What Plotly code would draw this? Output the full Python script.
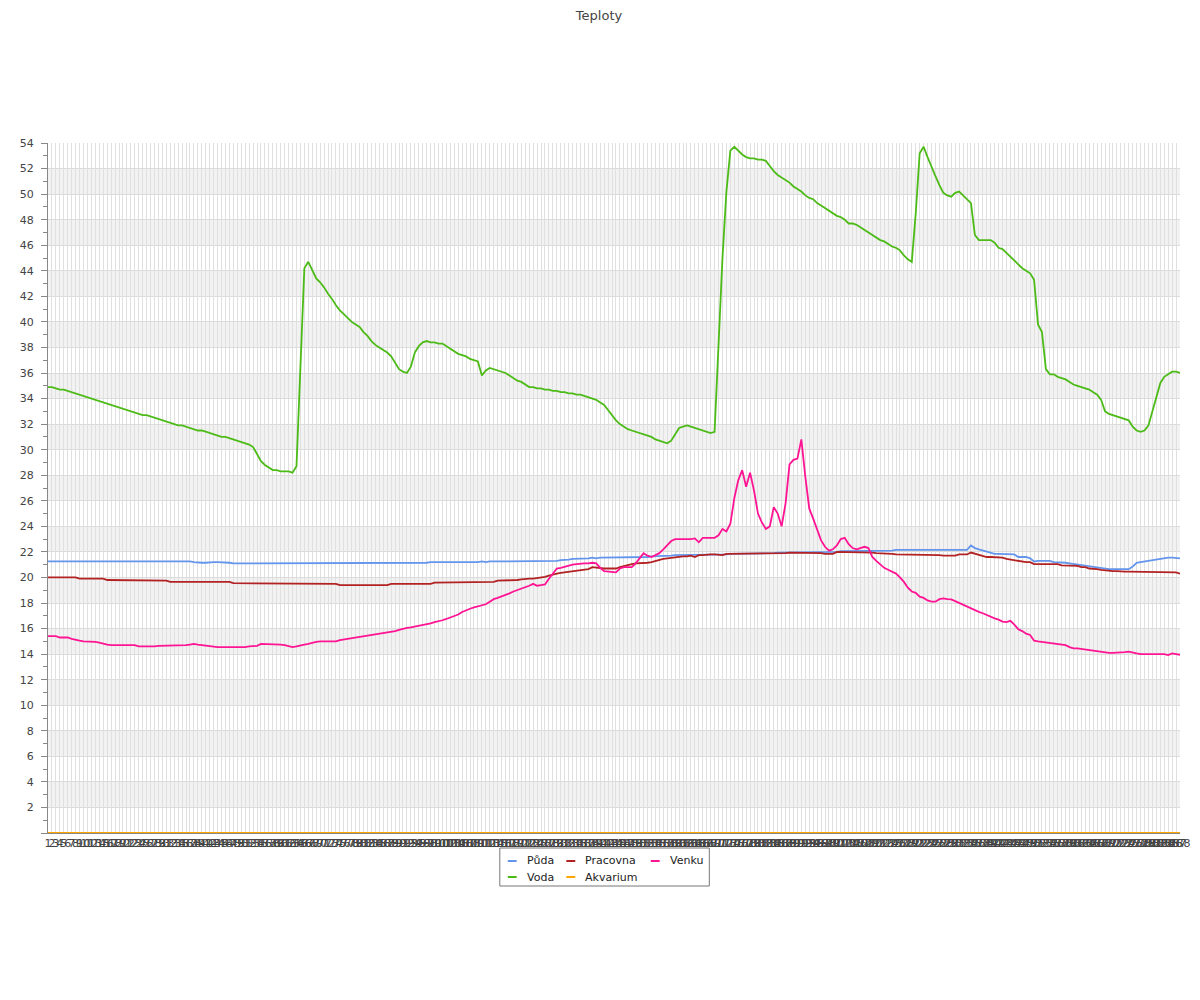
import plotly.graph_objects as go

# ---------------- data ----------------
x_cats = list(range(1, 289))

puda = [
    21.25, 21.25, 21.25, 21.3, 21.25, 21.25, 21.25, 21.25, 21.25, 21.25,
    21.25, 21.25, 21.25, 21.25, 21.25, 21.25, 21.25, 21.25, 21.25, 21.25,
    21.25, 21.25, 21.25, 21.25, 21.25, 21.25, 21.25, 21.25, 21.25, 21.25,
    21.25, 21.25, 21.25, 21.25, 21.25, 21.25, 21.25, 21.2, 21.15, 21.15,
    21.15, 21.2, 21.2, 21.2, 21.2, 21.15, 21.15, 21.1, 21.1, 21.1,
    21.15, 21.15, 21.1, 21.1, 21.15, 21.15, 21.15, 21.1, 21.1, 21.1,
    21.1, 21.1, 21.1, 21.1, 21.1, 21.1, 21.1, 21.1, 21.1, 21.1,
    21.1, 21.1, 21.1, 21.1, 21.1, 21.1, 21.1, 21.1, 21.1, 21.1,
    21.1, 21.1, 21.1, 21.1, 21.1, 21.1, 21.1, 21.1, 21.1, 21.1,
    21.1, 21.1, 21.15, 21.1, 21.1, 21.1, 21.15, 21.2, 21.2, 21.2,
    21.2, 21.2, 21.2, 21.2, 21.2, 21.2, 21.15, 21.15, 21.2, 21.2,
    21.25, 21.2, 21.25, 21.25, 21.25, 21.25, 21.25, 21.25, 21.25, 21.25,
    21.25, 21.25, 21.25, 21.25, 21.25, 21.25, 21.25, 21.25, 21.3, 21.3,
    21.35, 21.35, 21.4, 21.45, 21.45, 21.5, 21.5, 21.5, 21.55, 21.5,
    21.55, 21.55, 21.55, 21.55, 21.55, 21.55, 21.55, 21.55, 21.55, 21.6,
    21.6, 21.6, 21.6, 21.65, 21.65, 21.65, 21.7, 21.7, 21.7, 21.75,
    21.75, 21.75, 21.75, 21.75, 21.75, 21.75, 21.75, 21.75, 21.75, 21.75,
    21.8, 21.8, 21.8, 21.85, 21.85, 21.85, 21.85, 21.85, 21.85, 21.9,
    21.9, 21.9, 21.9, 21.9, 21.9, 21.95, 21.95, 21.95, 21.95, 21.95,
    21.95, 21.95, 21.95, 21.95, 21.95, 22.0, 22.0, 22.0, 22.0, 22.0,
    22.0, 22.05, 22.05, 22.05, 22.05, 22.05, 22.1, 22.1, 22.1, 22.1,
    22.1, 22.1, 22.1, 22.1, 22.1, 22.15, 22.15, 22.15, 22.15, 22.15,
    22.15, 22.15, 22.15, 22.15, 22.15, 22.15, 22.15, 22.15, 22.15, 22.15,
    22.15, 22.15, 22.15, 22.15, 22.5, 22.3, 22.2, 22.1, 22.0, 21.9,
    21.85, 21.85, 21.85, 21.85, 21.85, 21.8, 21.6, 21.6, 21.6, 21.5,
    21.25, 21.3, 21.3, 21.3, 21.3, 21.2, 21.2, 21.2, 21.15, 21.1,
    21.05, 21.0, 20.95, 20.9, 20.9, 20.85, 20.8, 20.75, 20.7, 20.65,
    20.65, 20.65, 20.65, 20.65, 20.65, 20.85, 21.15, 21.2, 21.25, 21.3,
    21.35, 21.4, 21.5, 21.5, 21.55, 21.55, 21.5, 21.5,
]

voda = [
    34.9, 34.9, 34.8, 34.7, 34.7, 34.6, 34.5, 34.4, 34.3, 34.2,
    34.1, 34.0, 33.9, 33.8, 33.7, 33.6, 33.5, 33.4, 33.3, 33.2,
    33.1, 33.0, 32.9, 32.8, 32.7, 32.7, 32.6, 32.5, 32.4, 32.3,
    32.2, 32.1, 32.0, 31.9, 31.9, 31.8, 31.7, 31.6, 31.5, 31.5,
    31.4, 31.3, 31.2, 31.1, 31.0, 31.0, 30.9, 30.8, 30.7, 30.6,
    30.5, 30.4, 30.2, 29.6, 29.1, 28.8, 28.6, 28.4, 28.4, 28.3,
    28.3, 28.3, 28.2, 28.7, 36.5, 44.2, 44.7, 44.0, 43.4, 43.1,
    42.7, 42.2, 41.8, 41.3, 40.9, 40.6, 40.3, 40.0, 39.8, 39.6,
    39.2, 38.9, 38.5, 38.2, 38.0, 37.8, 37.6, 37.3, 36.8, 36.3,
    36.1, 36.0, 36.5, 37.6, 38.1, 38.4, 38.5, 38.4, 38.4, 38.3,
    38.3, 38.1, 37.9, 37.7, 37.5, 37.4, 37.3, 37.1, 37.0, 36.9,
    35.8, 36.2, 36.4, 36.3, 36.2, 36.1, 36.0, 35.8, 35.6, 35.4,
    35.3, 35.1, 34.9, 34.9, 34.8, 34.8, 34.7, 34.7, 34.6, 34.6,
    34.5, 34.5, 34.4, 34.4, 34.3, 34.3, 34.2, 34.1, 34.0, 33.9,
    33.7, 33.5, 33.1, 32.7, 32.3, 32.0, 31.8, 31.6, 31.5, 31.4,
    31.3, 31.2, 31.1, 31.0, 30.8, 30.7, 30.6, 30.5, 30.7, 31.2,
    31.7, 31.8, 31.9, 31.8, 31.7, 31.6, 31.5, 31.4, 31.3, 31.4,
    38.5, 45.0, 50.2, 53.4, 53.7, 53.4, 53.1, 52.9, 52.8, 52.8,
    52.7, 52.7, 52.6, 52.2, 51.8, 51.5, 51.3, 51.1, 50.9, 50.6,
    50.4, 50.2, 49.9, 49.7, 49.6, 49.3, 49.1, 48.9, 48.7, 48.5,
    48.3, 48.2, 48.0, 47.7, 47.7, 47.6, 47.4, 47.2, 47.0, 46.8,
    46.6, 46.4, 46.3, 46.1, 45.9, 45.8, 45.6, 45.2, 44.9, 44.7,
    48.5, 53.2, 53.7, 52.9, 52.1, 51.4, 50.7, 50.1, 49.9, 49.8,
    50.1, 50.2, 49.9, 49.6, 49.3, 46.8, 46.4, 46.4, 46.4, 46.4,
    46.2, 45.8, 45.7, 45.4, 45.1, 44.8, 44.5, 44.2, 44.0, 43.8,
    43.3, 39.8, 39.2, 36.3, 35.9, 35.9, 35.7, 35.6, 35.5, 35.3,
    35.1, 35.0, 34.9, 34.8, 34.7, 34.5, 34.3, 33.9, 33.0, 32.8,
    32.7, 32.6, 32.5, 32.4, 32.3, 31.8, 31.5, 31.4, 31.5, 31.9,
    33.0, 34.2, 35.2, 35.7, 35.9, 36.1, 36.1, 36.0,
]

pracovna = [
    20.0, 20.0, 20.0, 20.0, 20.0, 20.0, 20.0, 20.0, 19.9, 19.9,
    19.9, 19.9, 19.9, 19.9, 19.9, 19.8, 19.8, 19.8, 19.8, 19.8,
    19.8, 19.75, 19.75, 19.75, 19.75, 19.75, 19.75, 19.75, 19.75, 19.75,
    19.75, 19.65, 19.65, 19.65, 19.65, 19.65, 19.65, 19.65, 19.65, 19.65,
    19.65, 19.65, 19.65, 19.65, 19.65, 19.65, 19.65, 19.55, 19.55, 19.55,
    19.55, 19.55, 19.55, 19.55, 19.55, 19.55, 19.55, 19.55, 19.55, 19.5,
    19.5, 19.5, 19.5, 19.5, 19.5, 19.5, 19.5, 19.5, 19.5, 19.5,
    19.5, 19.5, 19.55, 19.5, 19.4, 19.4, 19.4, 19.4, 19.4, 19.4,
    19.45, 19.4, 19.4, 19.4, 19.4, 19.4, 19.4, 19.5, 19.5, 19.5,
    19.5, 19.5, 19.5, 19.5, 19.5, 19.5, 19.5, 19.5, 19.6, 19.6,
    19.6, 19.6, 19.6, 19.6, 19.6, 19.6, 19.65, 19.65, 19.65, 19.65,
    19.65, 19.65, 19.65, 19.65, 19.75, 19.75, 19.75, 19.75, 19.8, 19.8,
    19.85, 19.9, 19.9, 19.9, 19.95, 19.95, 20.05, 20.15, 20.25, 20.3,
    20.35, 20.4, 20.45, 20.5, 20.55, 20.6, 20.6, 20.65, 20.8, 20.75,
    20.7, 20.7, 20.7, 20.7, 20.7, 20.8, 20.9, 21.0, 21.05, 21.1,
    21.1, 21.15, 21.15, 21.2, 21.3, 21.35, 21.45, 21.5, 21.55, 21.6,
    21.6, 21.65, 21.65, 21.7, 21.6, 21.75, 21.75, 21.8, 21.8, 21.8,
    21.8, 21.75, 21.85, 21.85, 21.85, 21.9, 21.85, 21.9, 21.85, 21.85,
    21.85, 21.85, 21.85, 21.9, 21.9, 21.85, 21.9, 21.9, 21.95, 21.95,
    21.95, 21.95, 21.9, 21.9, 21.9, 21.9, 21.9, 21.85, 21.85, 21.85,
    22.0, 22.0, 21.95, 21.95, 21.95, 21.95, 21.95, 21.95, 21.95, 21.95,
    21.9, 21.9, 21.9, 21.85, 21.85, 21.8, 21.8, 21.8, 21.8, 21.8,
    21.8, 21.8, 21.8, 21.75, 21.75, 21.75, 21.75, 21.7, 21.7, 21.7,
    21.7, 21.8, 21.8, 21.8, 21.95, 21.85, 21.75, 21.65, 21.6, 21.6,
    21.6, 21.6, 21.55, 21.45, 21.4, 21.35, 21.25, 21.2, 21.2, 21.2,
    21.05, 21.05, 21.05, 21.05, 21.05, 21.05, 21.05, 20.95, 20.95, 20.9,
    20.9, 20.9, 20.8, 20.8, 20.7, 20.7, 20.65, 20.6, 20.55, 20.55,
    20.5, 20.5, 20.45, 20.45, 20.45, 20.45, 20.45, 20.45, 20.45, 20.45,
    20.45, 20.4, 20.4, 20.4, 20.4, 20.4, 20.4, 20.3,
]

akvarium = [
    0, 0, 0, 0, 0, 0, 0, 0, 0, 0, 0, 0, 0, 0, 0, 0, 0, 0, 0, 0, 0, 0, 0, 0,
    0, 0, 0, 0, 0, 0, 0, 0, 0, 0, 0, 0, 0, 0, 0, 0, 0, 0, 0, 0, 0, 0, 0, 0,
    0, 0, 0, 0, 0, 0, 0, 0, 0, 0, 0, 0, 0, 0, 0, 0, 0, 0, 0, 0, 0, 0, 0, 0,
    0, 0, 0, 0, 0, 0, 0, 0, 0, 0, 0, 0, 0, 0, 0, 0, 0, 0, 0, 0, 0, 0, 0, 0,
    0, 0, 0, 0, 0, 0, 0, 0, 0, 0, 0, 0, 0, 0, 0, 0, 0, 0, 0, 0, 0, 0, 0, 0,
    0, 0, 0, 0, 0, 0, 0, 0, 0, 0, 0, 0, 0, 0, 0, 0, 0, 0, 0, 0, 0, 0, 0, 0,
    0, 0, 0, 0, 0, 0, 0, 0, 0, 0, 0, 0, 0, 0, 0, 0, 0, 0, 0, 0, 0, 0, 0, 0,
    0, 0, 0, 0, 0, 0, 0, 0, 0, 0, 0, 0, 0, 0, 0, 0, 0, 0, 0, 0, 0, 0, 0, 0,
    0, 0, 0, 0, 0, 0, 0, 0, 0, 0, 0, 0, 0, 0, 0, 0, 0, 0, 0, 0, 0, 0, 0, 0,
    0, 0, 0, 0, 0, 0, 0, 0, 0, 0, 0, 0, 0, 0, 0, 0, 0, 0, 0, 0, 0, 0, 0, 0,
    0, 0, 0, 0, 0, 0, 0, 0, 0, 0, 0, 0, 0, 0, 0, 0, 0, 0, 0, 0, 0, 0, 0, 0,
    0, 0, 0, 0, 0, 0, 0, 0, 0, 0, 0, 0, 0, 0, 0, 0, 0, 0, 0, 0, 0, 0, 0, 0,
]

venku = [
    15.4, 15.4, 15.4, 15.3, 15.3, 15.3, 15.2, 15.1, 15.05, 15.0,
    15.0, 15.0, 14.95, 14.9, 14.8, 14.75, 14.7, 14.7, 14.7, 14.7,
    14.7, 14.7, 14.7, 14.6, 14.6, 14.6, 14.55, 14.6, 14.65, 14.65,
    14.7, 14.7, 14.7, 14.7, 14.7, 14.7, 14.75, 14.8, 14.75, 14.7,
    14.7, 14.6, 14.6, 14.55, 14.55, 14.55, 14.5, 14.5, 14.5, 14.55,
    14.55, 14.6, 14.6, 14.65, 14.8, 14.8, 14.75, 14.8, 14.8, 14.75,
    14.7, 14.6, 14.55, 14.6, 14.7, 14.75, 14.8, 14.9, 14.95, 15.0,
    15.0, 15.0, 15.0, 15.0, 15.1, 15.15, 15.2, 15.25, 15.3, 15.3,
    15.35, 15.4, 15.45, 15.5, 15.55, 15.6, 15.65, 15.7, 15.8, 15.9,
    16.0, 16.05, 16.1, 16.15, 16.2, 16.25, 16.3, 16.4, 16.5, 16.55,
    16.65, 16.75, 16.85, 16.95, 17.1, 17.3, 17.45, 17.55, 17.65, 17.75,
    17.8, 17.9, 18.1, 18.3, 18.4, 18.5, 18.6, 18.75, 18.9, 19.0,
    19.15, 19.25, 19.35, 19.5, 19.35, 19.4, 19.45, 19.9, 20.3, 20.7,
    20.75, 20.85, 20.95, 21.0, 21.05, 21.1, 21.1, 21.1, 21.15, 21.1,
    20.75, 20.5, 20.45, 20.4, 20.4, 20.7, 20.8, 20.8, 20.8, 21.1,
    21.5, 21.9, 21.7, 21.6, 21.75, 21.9, 22.2, 22.5, 22.85, 23.0,
    23.0, 22.95, 22.95, 23.0, 23.05, 22.75, 23.1, 23.1, 23.1, 23.1,
    23.3, 23.8, 23.6, 24.2, 26.2, 27.6, 28.4, 27.1, 28.2, 26.8,
    25.0, 24.3, 23.8, 24.0, 25.5, 25.0, 24.0, 25.8, 28.85, 29.2,
    29.3, 30.8, 27.9, 25.4, 24.6, 23.8, 22.9, 22.4, 22.1, 22.2,
    22.5, 23.0, 23.1, 22.6, 22.3, 22.2, 22.3, 22.4, 22.3, 21.6,
    21.3, 21.0, 20.75, 20.6, 20.45, 20.3, 20.0, 19.65, 19.2, 18.9,
    18.8, 18.5, 18.4, 18.2, 18.1, 18.1, 18.3, 18.36, 18.3, 18.28,
    18.15, 18.0, 17.9, 17.75, 17.6, 17.45, 17.3, 17.2, 17.05, 16.9,
    16.8, 16.7, 16.55, 16.5, 16.6, 16.3, 15.95, 15.8, 15.6, 15.5,
    15.05, 15.0, 14.95, 14.9, 14.9, 14.85, 14.8, 14.75, 14.7, 14.55,
    14.45, 14.45, 14.4, 14.4, 14.35, 14.3, 14.25, 14.2, 14.15, 14.1,
    14.1, 14.1, 14.15, 14.15, 14.2, 14.1, 14.05, 14.0, 14.0, 14.0,
    14.0, 14.0, 14.0, 14.0, 13.93, 14.05, 14.0, 13.95,
]

series_names = ["Půda", "Voda", "Pracovna", "Akvarium", "Venku"]
series_colors = ["#6495ed", "#4cbb17", "#b22222", "#ffa500", "#ff1493"]
series_values = [puda, voda, pracovna, akvarium, venku]

y_tick_vals = list(range(0, 56, 2))
y_tick_text = [("" if v == 0 else str(v)) for v in y_tick_vals]

# ---------------- layout geometry ----------------
# The page body adds an 8px offset; the target plot area is x 40..1180, y 143..833.
OFF = 8
W, H = 1200, 1000
ML, MT = 40 - OFF, 143 - OFF
PW, PH = 1140, 690
MR = W - ML - PW
MB = H - MT - PH
FONT = "DejaVu Sans"


def px(x):
    return (x - OFF - ML) / PW


def py(y):
    return (MT + PH - (y - OFF)) / PH


fig = go.Figure()
for name, color, vals in zip(series_names, series_colors, series_values):
    fig.add_trace(go.Scatter(
        x=x_cats, y=vals, mode="lines", name=name,
        line=dict(color=color, width=1.8), showlegend=False,
    ))

shapes = []
# alternating grey bands
for k in range(13):
    shapes.append(dict(type="rect", xref="paper", yref="y", x0=0, x1=1,
                       y0=4 * k + 2, y1=4 * k + 4, fillcolor="#f2f2f2",
                       line=dict(width=0), layer="below"))

# manual legend box
shapes.append(dict(type="rect", xref="paper", yref="paper",
                   x0=px(495), x1=px(706), y0=py(848), y1=py(886),
                   line=dict(color="#777", width=1), fillcolor="white"))

legend_pos = {
    "Půda": (503, 861), "Pracovna": (562, 861), "Venku": (647, 861),
    "Voda": (503, 877), "Akvarium": (562, 877),
}
annotations = []
for name, color in zip(series_names, series_colors):
    sx, sy = legend_pos[name]
    shapes.append(dict(type="line", xref="paper", yref="paper",
                       x0=px(sx), x1=px(sx + 9), y0=py(sy), y1=py(sy),
                       line=dict(color=color, width=2)))
    annotations.append(dict(xref="paper", yref="paper", x=px(sx + 17), y=py(sy),
                            text=name, showarrow=False, xanchor="left",
                            yanchor="middle",
                            font=dict(family=FONT, size=11, color="#222")))

fig.update_layout(
    width=W, height=H,
    margin=dict(l=ML, r=MR, t=MT, b=MB, pad=0),
    paper_bgcolor="white", plot_bgcolor="white",
    title=dict(text="Teploty", x=(599 - OFF) / W, xref="container", xanchor="center",
               y=1 - 7 / H, yref="container", yanchor="middle",
               font=dict(family=FONT, size=13, color="#444")),
    shapes=shapes, annotations=annotations,
    showlegend=False,
    font=dict(family=FONT, size=11, color="#444"),
)

fig.update_xaxes(
    range=[1, 288], tickmode="linear", tick0=1, dtick=1, tickangle=0,
    showgrid=True, gridcolor="#e0e0e0", gridwidth=1,
    showline=True, linecolor="#888", linewidth=1,
    ticks="", zeroline=False,
    tickfont=dict(family=FONT, size=11, color="#444"),
)
fig.update_yaxes(
    range=[0, 54], tickmode="array", tickvals=y_tick_vals, ticktext=y_tick_text,
    showgrid=True, gridcolor="#dcdcdc", gridwidth=1,
    showline=True, linecolor="#888", linewidth=1,
    ticks="outside", ticklen=6, tickcolor="#888",
    ticklabelstandoff=5,
    minor=dict(dtick=1, ticks="outside", ticklen=4, tickcolor="#888", showgrid=False),
    zeroline=False,
    tickfont=dict(family=FONT, size=11, color="#444"),
)

fig.write_html("out.html")
